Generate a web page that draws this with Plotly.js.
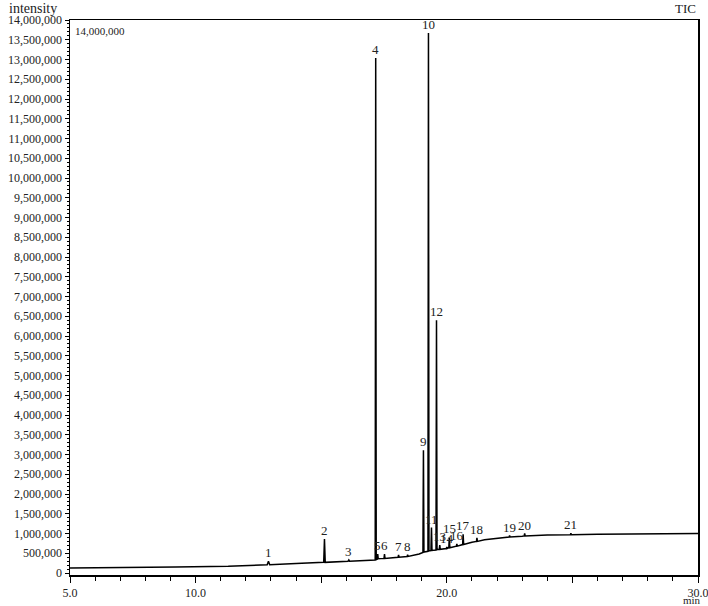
<!DOCTYPE html>
<html>
<head>
<meta charset="utf-8">
<script src="https://cdn.plot.ly/plotly-3.0.1.min.js"></script>
<style>
  body { margin: 0; background: #fff; }
  #graph { width: 708px; height: 606px; }
</style>
</head>
<body>
<div id="graph"></div>
<script>
// retention time (min) and TIC intensity
const retentionTime = [
  5.0, 8.6, 9.2, 11.3,
  12.85, 12.9, 12.95, 14.0,
  15.1, 15.13, 15.16,
  16.07, 16.1, 16.13,
  17.15, 17.17, 17.19,
  17.23, 17.25, 17.27,
  17.5, 17.52, 17.54,
  18.06, 18.08, 18.1,
  18.42, 18.44, 18.46, 18.9,
  19.05, 19.07, 19.09,
  19.25, 19.27, 19.29,
  19.37, 19.39, 19.41,
  19.57, 19.59, 19.61,
  19.7, 19.72, 19.74,
  19.98, 20.0, 20.02,
  20.08, 20.1, 20.12,
  20.38, 20.4, 20.42,
  20.63, 20.65, 20.67, 21.0,
  21.18, 21.2, 21.22, 21.5, 22.0,
  22.48, 22.5, 22.52, 23.0,
  23.08, 23.1, 23.12, 24.0,
  24.92, 24.94, 24.96, 26.0, 28.0, 30.0
];
const intensity = [
  130000, 140000, 150000, 170000,
  210000, 300000, 210000, 240000,
  270000, 860000, 270000,
  300000, 330000, 300000,
  330000, 13040000, 340000,
  350000, 480000, 360000,
  370000, 480000, 370000,
  400000, 460000, 400000,
  420000, 460000, 420000, 480000,
  520000, 3110000, 530000,
  550000, 13670000, 560000,
  570000, 1150000, 570000,
  580000, 6400000, 590000,
  600000, 710000, 600000,
  620000, 660000, 620000,
  640000, 900000, 640000,
  680000, 740000, 680000,
  720000, 980000, 720000, 780000,
  800000, 890000, 800000, 840000, 880000,
  910000, 950000, 910000, 930000,
  940000, 1000000, 940000, 960000,
  970000, 1010000, 970000, 980000, 990000, 1000000
];

// peak numbers with their apex time and height
const peakLabels = ['1','2','3','4','5','6','7','8','9','10','11','12','13','14','15','16','17','18','19','20','21'];
const peakTime = [12.9, 15.13, 16.1, 17.17, 17.25, 17.52, 18.08, 18.44, 19.07, 19.27, 19.39, 19.59, 19.72, 20.0, 20.1, 20.4, 20.65, 21.2, 22.5, 23.1, 24.94];
const peakHeight = [300000, 860000, 330000, 13040000, 480000, 480000, 460000, 460000, 3110000, 13670000, 1150000, 6400000, 710000, 660000, 900000, 740000, 980000, 890000, 950000, 1000000, 1010000];

const xTickVals = [5, 10, 15, 20, 25, 30];
const xTickText = ['5.0', '10.0', '', '20.0', '', '30.0'];

const serif = 'Liberation Serif, DejaVu Serif, serif';

const trace = {
  x: retentionTime,
  y: intensity,
  type: 'scatter',
  mode: 'lines',
  line: { color: '#000', width: 1.5 },
  hoverinfo: 'skip'
};

const annotations = peakLabels.map((lab, i) => ({
  x: peakTime[i],
  y: peakHeight[i],
  text: lab,
  showarrow: false,
  xanchor: 'center',
  yanchor: 'bottom',
  yshift: -1,
  font: { family: serif, size: 13, color: '#222' }
}));

annotations.push(
  { xref: 'paper', yref: 'paper', x: 0.005, y: 0.995, xanchor: 'left', yanchor: 'top',
    text: '14,000,000', showarrow: false, font: { family: serif, size: 11, color: '#222' } },
  { xref: 'paper', yref: 'paper', x: -0.1, y: 1.0, xanchor: 'left', yanchor: 'bottom', yshift: 2,
    text: 'intensity', showarrow: false, font: { family: serif, size: 14, color: '#222' } },
  { xref: 'paper', yref: 'paper', x: 1.0, y: 1.0, xanchor: 'right', yanchor: 'bottom', yshift: 2,
    text: 'TIC', showarrow: false, font: { family: serif, size: 13, color: '#222' } },
  { xref: 'paper', yref: 'paper', x: 1.0, y: 0, xanchor: 'center', yanchor: 'bottom', yshift: -32, xshift: -6,
    borderpad: 0, text: 'min', showarrow: false, font: { family: serif, size: 11, color: '#222' } }
);

const layout = {
  width: 708,
  height: 606,
  margin: { l: 70, r: 10, t: 20, b: 31 },
  paper_bgcolor: '#fff',
  plot_bgcolor: '#fff',
  showlegend: false,
  xaxis: {
    range: [5, 30],
    tickvals: xTickVals,
    ticktext: xTickText,
    ticks: 'outside',
    ticklen: 6,
    tickcolor: '#000',
    ticklabeloverflow: 'allow',
    minor: { dtick: 1, ticks: 'outside', ticklen: 4, tickcolor: '#000' },
    showline: true,
    mirror: true,
    linecolor: '#000',
    linewidth: 1.5,
    showgrid: false,
    zeroline: false,
    tickfont: { family: serif, size: 12, color: '#222' }
  },
  yaxis: {
    range: [-50000, 14000000],
    dtick: 500000,
    tick0: 0,
    tickformat: ',d',
    ticks: 'outside',
    ticklen: 4,
    tickcolor: '#000',
    minor: { dtick: 100000, ticks: 'outside', ticklen: 2, tickcolor: '#000' },
    showline: true,
    mirror: true,
    linecolor: '#000',
    linewidth: 1.5,
    showgrid: false,
    zeroline: false,
    tickfont: { family: serif, size: 12, color: '#222' }
  },
  annotations: annotations
};

Plotly.newPlot('graph', [trace], layout, { displayModeBar: false, staticPlot: true });
</script>
</body>
</html>
